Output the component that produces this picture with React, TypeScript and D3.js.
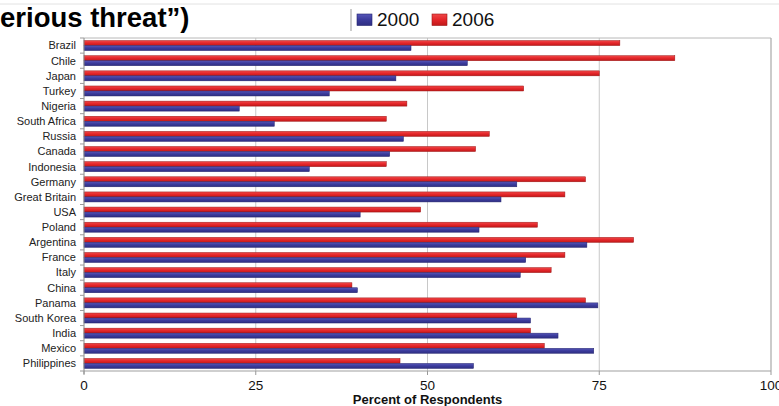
import React from "react";
import * as d3 from "d3";

const countries = ["Brazil","Chile","Japan","Turkey","Nigeria","South Africa","Russia","Canada","Indonesia","Germany","Great Britain","USA","Poland","Argentina","France","Italy","China","Panama","South Korea","India","Mexico","Philippines"];
const values2000 = [47.6,55.8,45.4,35.7,22.6,27.7,46.5,44.5,32.8,63,60.7,40.2,57.5,73.2,64.3,63.5,39.8,74.8,65,69,74.2,56.7];
const values2006 = [78,86,75,64,47,44,59,57,44,73,70,49,66,80,70,68,39,73,63,65,67,46];
const xTicks = [0,25,50,75,100];
const seriesNames = ["2000","2006"];

const W = 779, H = 406;
const M = { left: 84, right: 8, top: 38, bottom: 35 };
const blue = "#3b3b9c", blueStroke = "#24246e";
const red = "#e4262a", redStroke = "#9c1414";

export default function App() {
  const x = d3.scaleLinear().domain([0, 100]).range([M.left, 771]);
  const y = d3.scaleBand<string>().domain(countries).range([M.top, 371]).paddingInner(0.34).paddingOuter(0.17);
  const sub = d3.scaleBand<string>().domain(["2006","2000"]).range([0, y.bandwidth()]);
  const step = y.step();
  const font = "'Liberation Sans', Arial, sans-serif";
  return (
    <svg width={W} height={H} style={{ position: "absolute", left: 0, top: 0, background: "#fff" }} fontFamily={font}>
      <defs>
        <linearGradient id="gb" x1="0" y1="0" x2="0" y2="1">
          <stop offset="0" stopColor="#5656b8" />
          <stop offset="0.5" stopColor={blue} />
          <stop offset="1" stopColor="#2e2e82" />
        </linearGradient>
        <linearGradient id="gr" x1="0" y1="0" x2="0" y2="1">
          <stop offset="0" stopColor="#f04848" />
          <stop offset="0.5" stopColor={red} />
          <stop offset="1" stopColor="#c01818" />
        </linearGradient>
      </defs>
      <line x1={0} x2={W} y1={4} y2={4} stroke="#e2e2e2" />
      <text x={0} y={27} fontSize={27.5} fontWeight="bold" fill="#000">erious threat”)</text>
      {/* legend */}
      <line x1={351} x2={351} y1={9} y2={31} stroke="#999" />
      <rect x={357} y={14} width={15} height={11.5} fill="url(#gb)" stroke={blueStroke} strokeWidth={0.6} />
      <text x={377} y={26} fontSize={19} fill="#111">{seriesNames[0]}</text>
      <rect x={432} y={14} width={15} height={11.5} fill="url(#gr)" stroke={redStroke} strokeWidth={0.6} />
      <text x={452} y={26} fontSize={19} fill="#111">{seriesNames[1]}</text>
      {/* grid */}
      {xTicks.slice(1, -1).map(t => (
        <line key={t} x1={x(t)} x2={x(t)} y1={M.top} y2={371} stroke="#c8c8c8" />
      ))}
      {/* frame */}
      <line x1={x(0)} x2={x(100)} y1={M.top} y2={M.top} stroke="#b8b8b8" />
      <line x1={x(100)} x2={x(100)} y1={M.top} y2={371} stroke="#a8a8a8" strokeWidth={1.2} />
      <line x1={x(0)} x2={x(100)} y1={371} y2={371} stroke="#a0a0a0" strokeWidth={1.2} />
      {/* bars */}
      {countries.map((c, i) => (
        <g key={c}>
          <rect x={x(0)} y={(y(c) as number) + (sub("2006") as number)} width={x(values2006[i]) - x(0)} height={sub.bandwidth()} fill="url(#gr)" stroke={redStroke} strokeWidth={0.5} />
          <rect x={x(0)} y={(y(c) as number) + (sub("2000") as number)} width={x(values2000[i]) - x(0)} height={sub.bandwidth()} fill="url(#gb)" stroke={blueStroke} strokeWidth={0.5} />
          <text x={76} y={(y(c) as number) + y.bandwidth() / 2} dy="0.35em" textAnchor="end" fontSize={11} fill="#222">{c}</text>
        </g>
      ))}
      {/* left axis */}
      <line x1={x(0)} x2={x(0)} y1={M.top} y2={374} stroke="#888" />
      {d3.range(countries.length + 1).map(k => (
        <line key={k} x1={80} x2={x(0)} y1={M.top + k * step} y2={M.top + k * step} stroke="#999" />
      ))}
      {xTicks.map(t => (
        <g key={t}>
          <line x1={x(t)} x2={x(t)} y1={371} y2={375} stroke="#999" />
          <text x={x(t)} y={390} textAnchor="middle" fontSize={13.5} fill="#111">{t}</text>
        </g>
      ))}
      <text x={(x(0) + x(100)) / 2} y={404} textAnchor="middle" fontSize={13} fontWeight="bold" fill="#111">Percent of Respondents</text>
    </svg>
  );
}
